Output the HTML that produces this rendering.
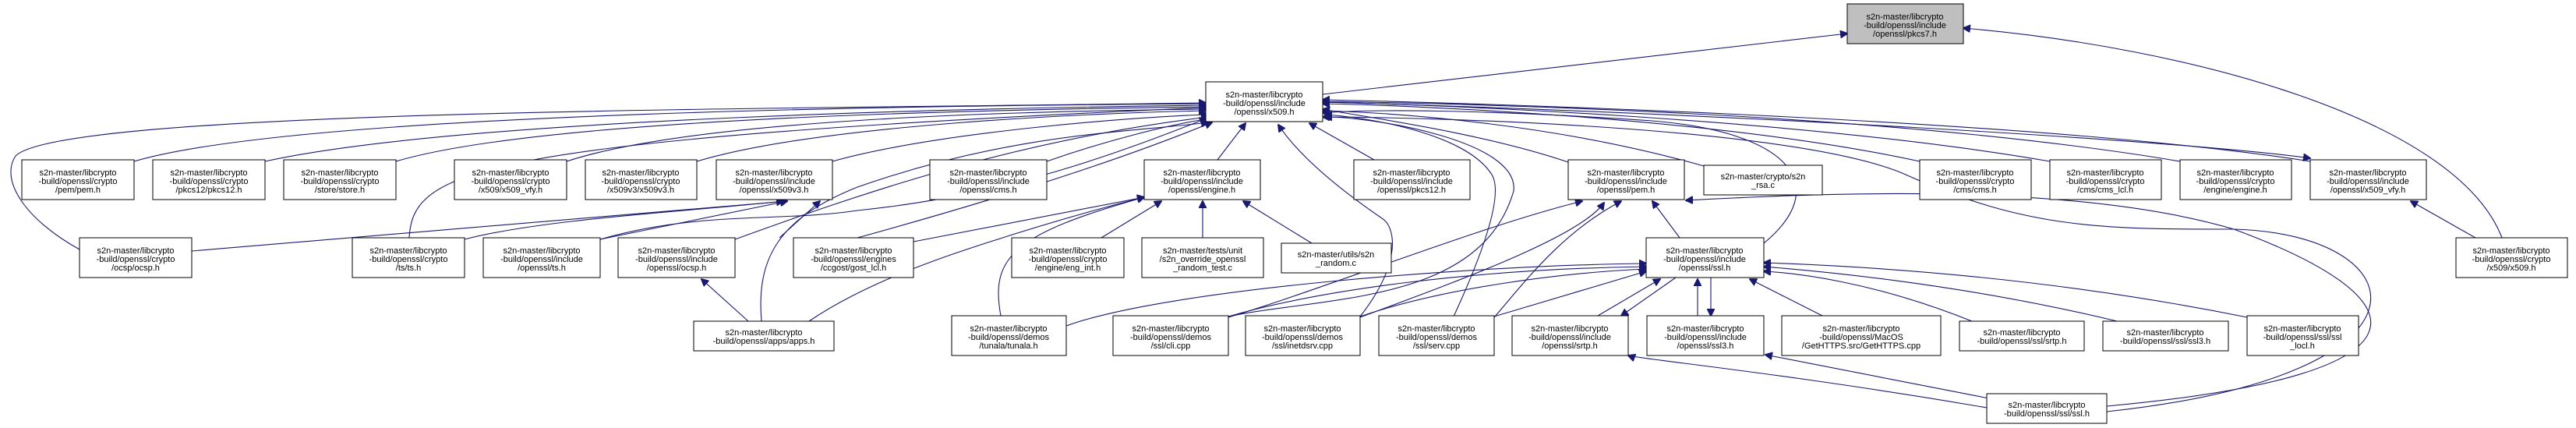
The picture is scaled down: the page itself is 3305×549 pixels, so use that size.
<!DOCTYPE html>
<html><head><meta charset="utf-8"><style>
html,body{margin:0;padding:0;background:#fff;}
svg{display:block;}
text{font-family:"Liberation Sans",Arial,sans-serif;font-size:11px;fill:#000;text-anchor:middle;}
.n{fill:#fff;stroke:#000;stroke-width:1;}
.e{fill:none;stroke:#191970;stroke-width:1.1;}
</style></head><body>
<svg width="3305" height="549" viewBox="0 0 3305 549" xmlns="http://www.w3.org/2000/svg">
<defs><marker id="a" viewBox="0 0 10 10" refX="9" refY="5" markerWidth="10" markerHeight="10" markerUnits="userSpaceOnUse" orient="auto"><path d="M0,0 L10,5 L0,10 z" fill="#191970" stroke="#191970"/></marker></defs>
<g class="e" marker-end="url(#a)">
<path d="M1697,121 L2370,43"/>
<path d="M3210,305 C3150,150 2800,60 2519,36"/>
<path d="M3176,305 L3093,258"/>
<path d="M172,207 C400,140 1300,135 1547,133"/>
<path d="M340,207 C600,150 1300,138 1547,135"/>
<path d="M508,207 C700,150 1300,140 1547,137"/>
<path d="M727,207 C900,150 1350,142 1547,140"/>
<path d="M894,207 C1050,160 1400,145 1547,142"/>
<path d="M1068,207 C1200,170 1450,150 1550,147"/>
<path d="M1343,207 C1420,180 1500,160 1552,152"/>
<path d="M1562,205 L1598,158"/>
<path d="M1763,205 L1680,158"/>
<path d="M2012,208 C1900,170 1750,150 1697,140"/>
<path d="M2186,213 C2000,160 1800,145 1697,142"/>
<path d="M2463,207 C2200,150 1800,135 1697,133"/>
<path d="M2630,207 C2300,150 1800,133 1697,131"/>
<path d="M2797,207 C2400,140 1800,132 1697,130"/>
<path d="M2964,207 C2600,150 1800,130 1697,128"/>
<path d="M1697,131 C2200,145 2800,180 2964,203"/>
<path d="M102,320 C30,280 0,230 20,200 C80,140 1000,140 1547,132"/>
<path d="M525,305 C530,220 600,180 1547,138"/>
<path d="M770,307 C900,270 1000,285 1100,270 C1300,250 1450,190 1548,152"/>
<path d="M943,307 C1100,250 1300,180 1550,150"/>
<path d="M1100,305 C1300,250 1450,200 1555,157"/>
<path d="M2263,312 C2350,240 2300,170 2120,155 C1900,140 1750,140 1697,145"/>
<path d="M977,412 C970,330 1000,280 1100,240 C1300,170 1450,170 1550,157"/>
<path d="M1745,406 C1800,336 1790,290 1773,280 C1700,230 1660,190 1640,160"/>
<path d="M1865,406 C1900,330 1930,250 1914,224 C1880,170 1750,150 1700,147"/>
<path d="M1576,406 C1700,380 1900,390 1942,245 C1950,180 1760,150 1700,150"/>
<path d="M2155,305 L2120,258"/>
<path d="M1576,407 C1700,370 1900,290 2030,258"/>
<path d="M1745,407 C1900,350 2030,300 2058,260"/>
<path d="M1917,407 C1950,370 2000,300 2080,258"/>
<path d="M2703,521 C3150,480 3100,380 2866,294 C2650,230 2300,250 2163,257"/>
<path d="M2703,528 C3150,480 3100,300 2866,294 C2700,294 2600,294 2445,224 C2300,160 1800,150 1697,150"/>
<path d="M1368,418 C1500,370 1900,340 2112,338"/>
<path d="M1576,406 C1700,370 1900,345 2112,342"/>
<path d="M1745,406 C1850,370 2000,350 2112,345"/>
<path d="M1917,406 L2112,348"/>
<path d="M2050,405 L2130,358"/>
<path d="M2150,356 L2080,405"/>
<path d="M2178,405 L2178,358"/>
<path d="M2195,356 L2195,405"/>
<path d="M2338,405 L2245,358"/>
<path d="M2530,412 C2400,360 2300,350 2263,348"/>
<path d="M2716,412 C2500,360 2300,345 2263,342"/>
<path d="M2883,407 C2600,350 2350,340 2263,337"/>
<path d="M2549,523 C2300,480 2100,460 2089,456"/>
<path d="M2552,511 L2265,455"/>
<path d="M246,322 L1010,258"/>
<path d="M596,307 C700,280 900,270 1005,258"/>
<path d="M770,307 L1010,258"/>
<path d="M1000,305 L1052,258"/>
<path d="M960,412 L900,358"/>
<path d="M1038,412 C1100,370 1180,340 1240,320 C1330,290 1400,270 1468,253"/>
<path d="M1172,310 L1468,253"/>
<path d="M1413,305 L1490,258"/>
<path d="M1543,305 L1543,258"/>
<path d="M1683,312 L1595,258"/>
<path d="M1284,405 C1270,330 1300,300 1468,253"/>
</g>
<rect x="2370" y="5" width="149" height="51" style="fill:#bfbfbf;stroke:#000"/>
<text x="2444" y="25">s2n-master/libcrypto</text><text x="2444" y="36">-build/openssl/include</text><text x="2444" y="47">/openssl/pkcs7.h</text>
<rect class="n" x="1547" y="105" width="150" height="51"/>
<text x="1622" y="125">s2n-master/libcrypto</text><text x="1622" y="136">-build/openssl/include</text><text x="1622" y="147">/openssl/x509.h</text>
<g>
<rect class="n" x="28" y="205" width="144" height="51"/><text x="100" y="225">s2n-master/libcrypto</text><text x="100" y="236">-build/openssl/crypto</text><text x="100" y="247">/pem/pem.h</text>
<rect class="n" x="196" y="205" width="144" height="51"/><text x="268" y="225">s2n-master/libcrypto</text><text x="268" y="236">-build/openssl/crypto</text><text x="268" y="247">/pkcs12/pkcs12.h</text>
<rect class="n" x="364" y="205" width="144" height="51"/><text x="436" y="225">s2n-master/libcrypto</text><text x="436" y="236">-build/openssl/crypto</text><text x="436" y="247">/store/store.h</text>
<rect class="n" x="583" y="205" width="144" height="51"/><text x="655" y="225">s2n-master/libcrypto</text><text x="655" y="236">-build/openssl/crypto</text><text x="655" y="247">/x509/x509_vfy.h</text>
<rect class="n" x="751" y="205" width="143" height="51"/><text x="822" y="225">s2n-master/libcrypto</text><text x="822" y="236">-build/openssl/crypto</text><text x="822" y="247">/x509v3/x509v3.h</text>
<rect class="n" x="919" y="205" width="149" height="51"/><text x="993" y="225">s2n-master/libcrypto</text><text x="993" y="236">-build/openssl/include</text><text x="993" y="247">/openssl/x509v3.h</text>
<rect class="n" x="1193" y="205" width="150" height="51"/><text x="1268" y="225">s2n-master/libcrypto</text><text x="1268" y="236">-build/openssl/include</text><text x="1268" y="247">/openssl/cms.h</text>
<rect class="n" x="1468" y="205" width="149" height="51"/><text x="1542" y="225">s2n-master/libcrypto</text><text x="1542" y="236">-build/openssl/include</text><text x="1542" y="247">/openssl/engine.h</text>
<rect class="n" x="1737" y="205" width="149" height="51"/><text x="1811" y="225">s2n-master/libcrypto</text><text x="1811" y="236">-build/openssl/include</text><text x="1811" y="247">/openssl/pkcs12.h</text>
<rect class="n" x="2012" y="205" width="149" height="51"/><text x="2086" y="225">s2n-master/libcrypto</text><text x="2086" y="236">-build/openssl/include</text><text x="2086" y="247">/openssl/pem.h</text>
<rect class="n" x="2186" y="212" width="152" height="38"/><text x="2262" y="230">s2n-master/crypto/s2n</text><text x="2262" y="241">_rsa.c</text>
<rect class="n" x="2463" y="205" width="143" height="51"/><text x="2534" y="225">s2n-master/libcrypto</text><text x="2534" y="236">-build/openssl/crypto</text><text x="2534" y="247">/cms/cms.h</text>
<rect class="n" x="2630" y="205" width="143" height="51"/><text x="2701" y="225">s2n-master/libcrypto</text><text x="2701" y="236">-build/openssl/crypto</text><text x="2701" y="247">/cms/cms_lcl.h</text>
<rect class="n" x="2797" y="205" width="143" height="51"/><text x="2868" y="225">s2n-master/libcrypto</text><text x="2868" y="236">-build/openssl/crypto</text><text x="2868" y="247">/engine/engine.h</text>
<rect class="n" x="2964" y="205" width="149" height="51"/><text x="3038" y="225">s2n-master/libcrypto</text><text x="3038" y="236">-build/openssl/include</text><text x="3038" y="247">/openssl/x509_vfy.h</text>
</g>
<g>
<rect class="n" x="102" y="305" width="144" height="51"/><text x="174" y="325">s2n-master/libcrypto</text><text x="174" y="336">-build/openssl/crypto</text><text x="174" y="347">/ocsp/ocsp.h</text>
<rect class="n" x="452" y="305" width="144" height="51"/><text x="524" y="325">s2n-master/libcrypto</text><text x="524" y="336">-build/openssl/crypto</text><text x="524" y="347">/ts/ts.h</text>
<rect class="n" x="620" y="305" width="150" height="51"/><text x="695" y="325">s2n-master/libcrypto</text><text x="695" y="336">-build/openssl/include</text><text x="695" y="347">/openssl/ts.h</text>
<rect class="n" x="793" y="305" width="150" height="51"/><text x="868" y="325">s2n-master/libcrypto</text><text x="868" y="336">-build/openssl/include</text><text x="868" y="347">/openssl/ocsp.h</text>
<rect class="n" x="1018" y="305" width="154" height="51"/><text x="1095" y="325">s2n-master/libcrypto</text><text x="1095" y="336">-build/openssl/engines</text><text x="1095" y="347">/ccgost/gost_lcl.h</text>
<rect class="n" x="1298" y="305" width="144" height="51"/><text x="1370" y="325">s2n-master/libcrypto</text><text x="1370" y="336">-build/openssl/crypto</text><text x="1370" y="347">/engine/eng_int.h</text>
<rect class="n" x="1465" y="305" width="156" height="51"/><text x="1543" y="325">s2n-master/tests/unit</text><text x="1543" y="336">/s2n_override_openssl</text><text x="1543" y="347">_random_test.c</text>
<rect class="n" x="1644" y="312" width="141" height="38"/><text x="1714" y="330">s2n-master/utils/s2n</text><text x="1714" y="341">_random.c</text>
<rect class="n" x="2112" y="305" width="151" height="51"/><text x="2187" y="325">s2n-master/libcrypto</text><text x="2187" y="336">-build/openssl/include</text><text x="2187" y="347">/openssl/ssl.h</text>
<rect class="n" x="3151" y="305" width="143" height="51"/><text x="3222" y="325">s2n-master/libcrypto</text><text x="3222" y="336">-build/openssl/crypto</text><text x="3222" y="347">/x509/x509.h</text>
</g>
<g>
<rect class="n" x="890" y="412" width="180" height="38"/><text x="980" y="430">s2n-master/libcrypto</text><text x="980" y="441">-build/openssl/apps/apps.h</text>
<rect class="n" x="1221" y="405" width="147" height="51"/><text x="1294" y="425">s2n-master/libcrypto</text><text x="1294" y="436">-build/openssl/demos</text><text x="1294" y="447">/tunala/tunala.h</text>
<rect class="n" x="1428" y="405" width="148" height="51"/><text x="1502" y="425">s2n-master/libcrypto</text><text x="1502" y="436">-build/openssl/demos</text><text x="1502" y="447">/ssl/cli.cpp</text>
<rect class="n" x="1598" y="405" width="147" height="51"/><text x="1671" y="425">s2n-master/libcrypto</text><text x="1671" y="436">-build/openssl/demos</text><text x="1671" y="447">/ssl/inetdsrv.cpp</text>
<rect class="n" x="1769" y="405" width="148" height="51"/><text x="1843" y="425">s2n-master/libcrypto</text><text x="1843" y="436">-build/openssl/demos</text><text x="1843" y="447">/ssl/serv.cpp</text>
<rect class="n" x="1940" y="405" width="149" height="51"/><text x="2014" y="425">s2n-master/libcrypto</text><text x="2014" y="436">-build/openssl/include</text><text x="2014" y="447">/openssl/srtp.h</text>
<rect class="n" x="2113" y="405" width="150" height="51"/><text x="2188" y="425">s2n-master/libcrypto</text><text x="2188" y="436">-build/openssl/include</text><text x="2188" y="447">/openssl/ssl3.h</text>
<rect class="n" x="2286" y="405" width="204" height="51"/><text x="2388" y="425">s2n-master/libcrypto</text><text x="2388" y="436">-build/openssl/MacOS</text><text x="2388" y="447">/GetHTTPS.src/GetHTTPS.cpp</text>
<rect class="n" x="2514" y="412" width="160" height="38"/><text x="2594" y="430">s2n-master/libcrypto</text><text x="2594" y="441">-build/openssl/ssl/srtp.h</text>
<rect class="n" x="2698" y="412" width="161" height="38"/><text x="2778" y="430">s2n-master/libcrypto</text><text x="2778" y="441">-build/openssl/ssl/ssl3.h</text>
<rect class="n" x="2883" y="405" width="143" height="51"/><text x="2954" y="425">s2n-master/libcrypto</text><text x="2954" y="436">-build/openssl/ssl/ssl</text><text x="2954" y="447">_locl.h</text>
<rect class="n" x="2549" y="505" width="154" height="38"/><text x="2626" y="523">s2n-master/libcrypto</text><text x="2626" y="534">-build/openssl/ssl/ssl.h</text>
</g>
</svg>
</body></html>
